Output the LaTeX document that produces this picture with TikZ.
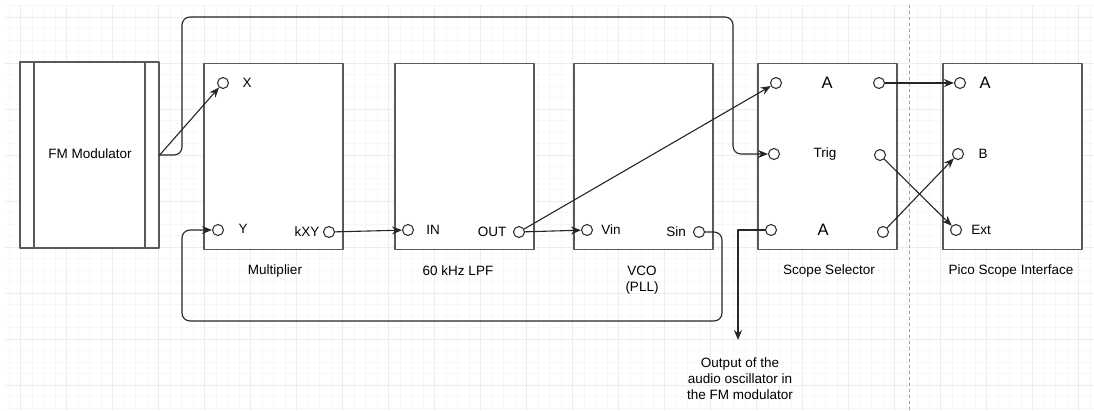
\documentclass[tikz,border=0pt]{standalone}
\usepackage{fontspec}
\setmainfont{Liberation Sans}
\usetikzlibrary{arrows.meta}
\begin{document}
\begin{tikzpicture}[x=1pt,y=-1pt,line cap=round,line join=round,
  block/.style={draw=black!65,line width=1.3pt,fill=white,minimum width=139pt,minimum height=186pt,inner sep=0pt},
  port/.style={circle,draw=black!80,line width=1.1pt,fill=white,minimum size=11pt,inner sep=0pt},
  wire/.style={draw=black!85,line width=1.1pt,-{Stealth[length=10pt,width=8pt]}},
  lbl/.style={font=\fontsize{13.5}{16}\selectfont},
  big/.style={font=\fontsize{16.5}{18}\selectfont}]
\useasboundingbox (0,0) rectangle (1094,410);
\fill[white] (0,0) rectangle (1094,410);
\begin{scope}
\clip (5,5) rectangle (1094,410);
\foreach \i in {0,...,95}
  \draw[black!3,line width=.8pt] (9.2+11.5*\i,5) -- (9.2+11.5*\i,410);
\foreach \j in {0,...,35}
  \draw[black!3,line width=.8pt] (5,5.8+11.5*\j) -- (1094,5.8+11.5*\j);
\foreach \i in {0,...,23}
  \draw[black!7,line width=1pt] (20.7+46*\i,5) -- (20.7+46*\i,410);
\foreach \j in {0,...,8}
  \draw[black!7,line width=1pt] (5,17.3+46*\j) -- (1094,17.3+46*\j);
\end{scope}
\draw[black!35,line width=.8pt,dash pattern=on 3pt off 3pt] (909,5) -- (909,410);
\node[block] (fm) at (89.5,155) {};
\draw[draw=black!65,line width=1.3pt] (34,62) -- (34,248);
\draw[draw=black!65,line width=1.3pt] (145,62) -- (145,248);
\node[lbl] at (90,154) {FM Modulator};
\node[block] (mult) at (273.5,156.5) {};
\node[block] (lpf) at (464.5,156.5) {};
\node[block] (vco) at (643.5,156.5) {};
\node[block] (sel) at (827.5,156.5) {};
\node[block] (pico) at (1012.5,156.5) {};
\node[lbl] at (275,271) {Multiplier};
\node[lbl] at (458,271) {60 kHz LPF};
\node[lbl,align=center] at (642,280) {VCO\\(PLL)};
\node[lbl] at (829,271) {Scope Selector};
\node[lbl] at (1011,271) {Pico Scope Interface};
\node[port] (mx) at (223,83) {};
\node[port] (my) at (218,230) {};
\node[port] (mkxy) at (329,232) {};
\node[port] (lin) at (408,230) {};
\node[port] (lout) at (519,232) {};
\node[port] (vin) at (587,230) {};
\node[port] (vsin) at (699,232) {};
\node[port] (sa1) at (776,83) {};
\node[port] (strig) at (774,154) {};
\node[port] (sa2) at (771,230) {};
\node[port] (so1) at (879,83) {};
\node[port] (so2) at (880,155) {};
\node[port] (so3) at (883,232) {};
\node[port] (pa) at (960,83) {};
\node[port] (pb) at (958,154) {};
\node[port] (pext) at (956,230) {};
\node[lbl] at (247,83) {X};
\node[lbl] at (243,229) {Y};
\node[lbl] at (307,232) {kXY};
\node[lbl] at (433,230) {IN};
\node[lbl] at (492,232) {OUT};
\node[lbl] at (611,230) {Vin};
\node[lbl] at (676,232) {Sin};
\node[big] at (827,83) {A};
\node[lbl] at (825,154) {Trig};
\node[big] at (823,230) {A};
\node[big] at (985,83) {A};
\node[lbl] at (983,154) {B};
\node[lbl] at (981,230) {Ext};
\coordinate (topL) at (182,17);
\coordinate (topR) at (733,17);
\coordinate (loopR) at (722,321);
\coordinate (loopL) at (182,321);
\coordinate (audio) at (738,340);
\draw[wire] (fm.east) -- (mx);
\draw[wire,rounded corners=8pt] (fm.east) -| (topL) -- (topR) |- (strig);
\draw[wire] (mkxy) -- (lin);
\draw[wire] (lout) -- (vin);
\draw[wire] (lout) -- (sa1);
\draw[wire,rounded corners=8pt] (vsin) -| (loopR) -- (loopL) |- (my);
\draw[wire] (sa2) -| (audio);
\node[lbl,align=center] at (740,379) {Output of the\\audio oscillator in\\the FM modulator};
\draw[wire] (so1) -- (pa);
\draw[wire] (so2) -- (pext);
\draw[wire] (so3) -- (pb);
\end{tikzpicture}
\end{document}
